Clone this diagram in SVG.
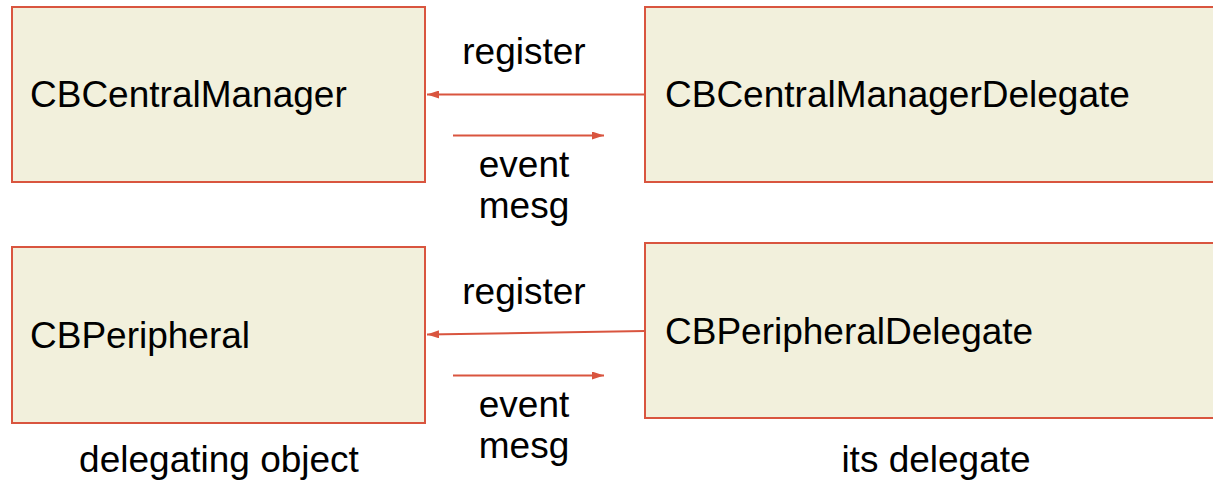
<svg xmlns="http://www.w3.org/2000/svg" width="1213" height="480" viewBox="0 0 1213 480">
<style>
.box{fill:#f2f0dc;stroke:#d9553f;stroke-width:2}
.t{font-family:"Liberation Sans",Arial,sans-serif;font-size:37px;fill:#000}
.c{text-anchor:middle}
.ln{stroke:#d9553f;stroke-width:2;fill:none}
</style>
<defs>
<marker id="ah" viewBox="0 0 12 8" refX="12" refY="4" markerWidth="12" markerHeight="8" markerUnits="userSpaceOnUse" orient="auto">
<path d="M0,0 L12,4 L0,8 Z" fill="#d9553f"/>
</marker>
</defs>
<rect width="1213" height="480" fill="#fff"/>
<g id="n-cbcentralmanager">
<rect class="box" x="12" y="7" width="413" height="175"/>
<text class="t" x="30" y="107">CBCentralManager</text>
</g>
<g id="n-cbcentralmanagerdelegate">
<rect class="box" x="645" y="7" width="580" height="175"/>
<text class="t" x="665" y="107">CBCentralManagerDelegate</text>
</g>
<g id="n-cbperipheral">
<rect class="box" x="12" y="247" width="413" height="176"/>
<text class="t" x="30" y="348">CBPeripheral</text>
</g>
<g id="n-cbperipheraldelegate">
<rect class="box" x="645" y="243" width="580" height="175"/>
<text class="t" x="665" y="344">CBPeripheralDelegate</text>
</g>
<g id="connectors">
<line class="ln" x1="645" y1="94.5" x2="427" y2="94.5" marker-end="url(#ah)"/>
<line class="ln" x1="453" y1="135.5" x2="604" y2="135.5" marker-end="url(#ah)"/>
<line class="ln" x1="645" y1="331" x2="427" y2="334.5" marker-end="url(#ah)"/>
<line class="ln" x1="453" y1="375.5" x2="604" y2="375.5" marker-end="url(#ah)"/>
<text class="t c" x="524" y="64">register</text>
<text class="t c" x="524" y="177">event</text>
<text class="t c" x="524" y="218">mesg</text>
<text class="t c" x="524" y="304">register</text>
<text class="t c" x="524" y="417">event</text>
<text class="t c" x="524" y="458">mesg</text>
</g>
<text class="t c" x="219" y="472">delegating object</text>
<text class="t c" x="936" y="472">its delegate</text>
</svg>
